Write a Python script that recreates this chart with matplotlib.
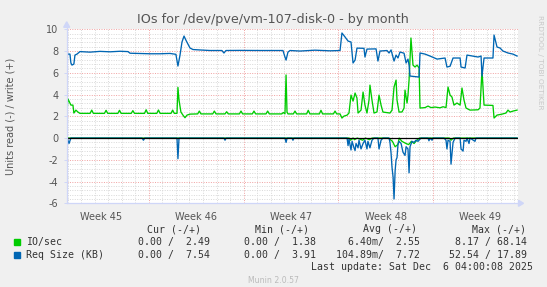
#!/usr/bin/env python3
"""Munin style 'IOs by month' graph for /dev/pve/vm-107-disk-0."""

import matplotlib
matplotlib.use('Agg')
import matplotlib.pyplot as plt
from matplotlib.patches import Polygon

# time in days relative to Mon Dec 1 00:00 (start of week 49)
week_starts = [-21, -14, -7, 0]
week_label_pos = [-24.5, -17.5, -10.5, -3.5, 3.5]
week_labels = ['Week 45', 'Week 46', 'Week 47', 'Week 48', 'Week 49']
x_range = (-27.07, 6.28)

# IO/sec, write (+)
io_write_t = [-27.05, -26.98, -26.90, -26.76, -26.61, -26.54, -26.39, -26.24, -26.09,
              -25.34, -25.22, -25.10, -24.28, -24.16, -24.04, -23.29, -23.17, -23.05,
              -22.30, -22.18, -22.06, -21.32, -21.20, -21.08, -20.41, -20.29, -20.17,
              -19.36, -19.24, -19.12, -18.92, -18.85, -18.77, -18.63, -18.48, -18.33,
              -18.18, -17.96, -17.39, -17.27, -17.15, -16.28, -16.16, -16.04,
              -15.37, -15.25, -15.13, -14.31, -14.19, -14.07, -13.35, -13.23, -13.11,
              -12.34, -12.22, -12.10, -11.18, -11.06, -10.94, -10.86, -10.79, -10.72,
              -10.32, -10.20, -10.08, -9.34, -9.22, -9.10, -8.40, -8.28, -8.16,
              -7.36, -7.24, -7.12, -6.87, -6.73, -6.58, -6.36, -6.21, -6.06, -5.91,
              -5.76, -5.62, -5.54, -5.32, -5.17, -5.03, -4.88, -4.73, -4.66, -4.51,
              -4.36, -4.14, -3.99, -3.84, -3.70, -3.18, -3.03, -2.88, -2.73, -2.66,
              -2.51, -2.29, -2.14, -2.07, -1.92, -1.85, -1.77, -1.63, -1.48, -1.33,
              -1.18, -1.03, -0.96, -0.59, -0.37, -0.15, 0.15, 0.52, 0.74, 0.96, 1.11,
              1.26, 1.40, 1.55, 1.77, 2.00, 2.14, 2.29, 2.44, 2.73, 3.33, 3.47, 3.62,
              3.77, 4.43, 4.51, 4.73, 5.10, 5.39, 5.54, 5.69, 5.91, 6.21]
io_write = [2.39, 3.59, 3.40, 3.03, 3.03, 2.30, 2.57, 2.39, 2.27,
            2.27, 2.57, 2.27, 2.27, 2.55, 2.27, 2.27, 2.55, 2.27,
            2.27, 2.52, 2.27, 2.27, 2.60, 2.27, 2.27, 2.58, 2.27,
            2.27, 2.57, 2.27, 2.27, 4.66, 3.49, 2.39, 2.11, 1.87,
            2.11, 2.20, 2.22, 2.48, 2.22, 2.22, 2.48, 2.22,
            2.22, 2.42, 2.22, 2.22, 2.48, 2.22, 2.22, 2.48, 2.22,
            2.22, 2.48, 2.22, 2.22, 2.35, 2.22, 5.80, 2.39, 2.22,
            2.22, 2.48, 2.22, 2.22, 2.55, 2.22, 2.22, 2.55, 2.22,
            2.22, 2.48, 2.22, 2.22, 1.84, 2.02, 2.10, 2.30, 3.95, 3.40,
            4.14, 3.68, 2.30, 2.57, 4.23, 3.03, 2.30, 3.49, 4.87, 3.49,
            2.30, 2.40, 3.95, 3.03, 2.39, 2.30, 2.57, 4.69, 5.33, 3.49,
            2.39, 2.40, 2.76, 4.41, 3.22, 3.95, 5.33, 9.20, 6.71, 6.53,
            6.71, 6.44, 2.76, 2.80, 2.94, 2.80, 2.85, 2.78, 2.88, 2.80, 4.69,
            3.95, 3.77, 3.03, 3.22, 3.03, 4.60, 3.49, 2.76, 2.57, 2.60, 2.76, 6.25,
            3.03, 3.00, 1.84, 2.11, 2.20, 2.30, 2.57, 2.39, 2.48, 2.57]

# IO/sec, read (-), stored positive
io_read_t = [-27.05, -6.20, -6.10, -5.90, -5.80, -5.60, -5.20, -5.00, -4.70, -4.50,
             -3.30, -3.00, -2.80, -2.60, -2.50, -2.30, -2.00, -1.80, -1.60, -1.40,
             -1.20, -1.00, 1.20, 1.33, 1.50, 6.21]
io_read = [0.0, 0.0, 0.20, 0.0, 0.15, 0.0, 0.20, 0.0, 0.15, 0.0,
           0.0, 0.30, 0.80, 0.60, 0.0, 0.30, 0.50, 0.60, 0.30, 0.50,
           0.20, 0.0, 0.0, 0.20, 0.0, 0.0]

# Req Size (KB), write (+)
req_write_t = [-27.05, -26.83, -26.76, -26.68, -26.54, -26.46, -26.31, -26.09, -25.35,
               -24.61, -23.87, -23.13, -22.54, -22.39, -20.92, -20.18, -19.44, -19.00,
               -18.85, -18.70, -18.55, -18.40, -18.26, -18.11, -17.96, -17.74, -17.22,
               -16.48, -15.60, -15.45, -15.30, -14.26, -12.79, -11.09, -10.94, -10.86,
               -10.72, -10.57, -9.83, -8.72, -7.61, -6.87, -6.73, -6.50, -6.28, -6.06,
               -5.91, -5.76, -5.62, -5.10, -5.03, -4.88, -4.21, -4.07, -3.92, -3.40,
               -3.25, -3.10, -2.88, -2.73, -2.59, -2.44, -2.14, -1.99, -1.85, -1.77,
               -1.70, -1.03, -0.96, -0.59, -0.22, 0.30, 0.89, 1.03, 1.26, 1.48, 2.00,
               2.07, 2.37, 2.51, 3.33, 3.55, 3.62, 3.77, 4.43, 4.51, 4.73, 4.95, 5.17,
               5.54, 5.91, 6.21]
req_write = [7.72, 7.72, 6.90, 6.71, 6.80, 7.63, 7.72, 7.95, 7.90,
             7.97, 7.93, 7.98, 7.95, 7.80, 7.75, 7.75, 7.78, 7.70,
             6.62, 7.60, 8.83, 9.38, 9.00, 8.64, 8.28, 8.14, 8.10,
             8.05, 8.05, 7.82, 8.05, 8.06, 8.05, 8.05, 7.45, 7.17,
             7.90, 8.05, 8.00, 8.08, 8.02, 8.05, 9.66, 9.29, 8.92, 8.83,
             6.90, 7.17, 8.27, 8.25, 7.45, 8.18, 8.20, 7.08, 8.00, 8.05,
             7.82, 8.10, 7.08, 7.63, 7.36, 7.91, 7.80, 6.90, 7.26, 6.71,
             5.70, 5.61, 7.82, 7.72, 7.54, 7.26, 7.36, 6.53, 6.60, 7.36, 7.36,
             6.53, 6.44, 7.63, 7.45, 7.54, 5.70, 7.36, 7.36, 9.47, 8.37, 8.28, 8.00,
             7.82, 7.72, 7.54]

# Req Size (KB), read (-), stored positive
req_read_t = [-27.05, -26.98, -26.90, -26.76, -21.50, -21.40, -21.30, -18.92, -18.85,
              -18.77, -15.45, -15.37, -15.29, -10.94, -10.86, -10.78, -10.42, -10.35,
              -10.28, -6.35, -6.28, -6.21, -6.06, -5.98, -5.84, -5.76, -5.69, -5.54,
              -5.47, -5.32, -5.17, -5.03, -4.88, -4.81, -4.66, -4.51, -4.36, -4.07,
              -3.99, -3.84, -3.70, -3.25, -3.18, -3.10, -3.03, -2.95, -2.88, -2.80,
              -2.73, -2.66, -2.59, -2.51, -2.36, -2.22, -2.07, -1.99, -1.85, -1.77,
              -1.70, -1.55, -1.40, -1.26, -1.11, -0.96, -0.89, -0.37, -0.30, -0.22,
              -0.07, 0.00, 0.81, 0.96, 1.03, 1.11, 1.26, 1.33, 1.48, 1.63, 2.00, 2.07,
              2.22, 2.29, 2.44, 2.51, 2.66, 2.73, 3.10, 3.18, 6.21]
req_read = [0.0, 0.20, 0.50, 0.0, 0.0, 0.20, 0.0, 0.0, 1.90,
            0.0, 0.0, 0.20, 0.0, 0.0, 0.40, 0.0, 0.0, 0.20,
            0.0, 0.0, 0.70, 0.10, 1.10, 0.30, 0.90, 1.15, 0.50, 0.90,
            0.20, 1.00, 0.50, 0.20, 1.00, 0.30, 0.90, 0.20, 0.0, 0.0,
            1.00, 0.20, 0.0, 0.0, 0.40, 1.40, 2.70, 3.60, 5.60, 3.00,
            2.00, 1.80, 0.60, 0.30, 0.50, 1.30, 1.60, 0.80, 1.00, 3.20,
            0.80, 0.30, 0.40, 0.20, 0.30, 0.10, 0.0, 0.0, 0.25, 0.0,
            0.20, 0.0, 0.0, 0.20, 1.00, 0.20, 0.30, 2.40, 0.40, 0.0, 0.0, 1.00,
            1.20, 0.20, 0.30, 0.0, 0.50, 0.0, 0.30, 0.0, 0.0]

legend_rows = [
    ('IO/sec', '#00CC00', ['0.00 /  2.49', '0.00 /  1.38', '6.40m/  2.55', '8.17 / 68.14']),
    ('Req Size (KB)', '#0066B3', ['0.00 /  7.54', '0.00 /  3.91', '104.89m/  7.72', '52.54 / 17.89']),
]
legend_headers = ['Cur (-/+)', 'Min (-/+)', 'Avg (-/+)', 'Max (-/+)']

W, H = 547, 287
BACK = '#F0F0F0'
AXIS = '#CFD6F8'
FONT = '#555555'
MONO = 'DejaVu Sans Mono'


def fx(px):
    return px / W


def fy(py):
    return 1 - py / H


fig = plt.figure(figsize=(W / 100, H / 100), dpi=100, facecolor=BACK)
left, right, top, bottom = 66.7, 518.0, 29.3, 203.3
ax = fig.add_axes([fx(left), fy(bottom), (right - left) / W, (bottom - top) / H])
ax.set_facecolor('white')
ax.set_xlim(*x_range)
ax.set_ylim(-6, 10)
for s in ax.spines.values():
    s.set_visible(False)

# grid: gray dotted minor lines, red dotted major lines
dots = (0, (1, 1.5))
d = int(x_range[0]) - 1
while d <= x_range[1]:
    if d not in week_starts and x_range[0] < d < x_range[1]:
        ax.axvline(d, color='#D8D8D8', lw=0.7, ls=dots, zorder=1)
    d += 1
for v in [i * 0.4 for i in range(-15, 26)]:
    if abs(v / 2 - round(v / 2)) > 1e-6:
        ax.axhline(v, color='#D8D8D8', lw=0.7, ls=dots, zorder=1)
for v in range(-6, 11, 2):
    if v != 0:
        ax.axhline(v, color='#F0A0A0', lw=0.7, ls=dots, zorder=1)
for w in week_starts:
    ax.axvline(w, color='#F0A0A0', lw=0.7, ls=dots, zorder=1)

# series
lw = 0.95
ax.plot(io_read_t, [-v for v in io_read], color='#00CC00', lw=lw, zorder=3)
ax.plot(io_write_t, io_write, color='#00CC00', lw=lw, zorder=3)
ax.plot(req_read_t, [-v for v in req_read], color='#0066B3', lw=lw, zorder=4)
ax.plot(req_write_t, req_write, color='#0066B3', lw=lw, zorder=4)
ax.axhline(0, color='black', lw=0.9, zorder=5)

# axes with arrows
ax.plot([0, 0], [0, 1.02], color=AXIS, lw=0.9, transform=ax.transAxes, clip_on=False, zorder=6)
ax.plot([0, 1.002], [0, 0], color=AXIS, lw=0.9, transform=ax.transAxes, clip_on=False, zorder=6)
aw = right - left
ah = bottom - top
ax.add_patch(Polygon([(0, 1 + 7.5 / ah), (-3 / aw, 1 + 2 / ah), (3 / aw, 1 + 2 / ah)],
                     closed=True, color=AXIS, transform=ax.transAxes, clip_on=False, zorder=6))
ax.add_patch(Polygon([(1 + 5.5 / aw, 0), (1 + 0.5 / aw, 3 / ah), (1 + 0.5 / aw, -3 / ah)],
                     closed=True, color=AXIS, transform=ax.transAxes, clip_on=False, zorder=6))

ax.set_yticks(range(-6, 11, 2))
ax.set_yticklabels([str(v) for v in range(-6, 11, 2)])
ax.set_xticks(week_label_pos)
ax.set_xticklabels(week_labels)
ax.tick_params(axis='y', length=2, width=0.7, color=AXIS, pad=4, labelsize=7, labelcolor=FONT)
ax.tick_params(axis='x', length=0, pad=6, labelsize=7, labelcolor=FONT)

# texts
fig.text(fx(273), fy(19), 'IOs for /dev/pve/vm-107-disk-0 - by month',
         ha='center', va='center', fontsize=9.2, color=FONT)
fig.text(fx(11), fy(116.3), 'Units read (-) / write (+)', rotation=90,
         ha='center', va='center', fontsize=7, color=FONT)
fig.text(fx(540), fy(15), 'RRDTOOL / TOBI OETIKER', rotation=270,
         ha='center', va='top', fontsize=5.3, color='#C8C8C8')

header_x = [200.6, 309.1, 417.0, 526.2]
value_x = [209.7, 315.8, 420.4, 526.9]
for hx, h in zip(header_x, legend_headers):
    fig.text(fx(hx), fy(229), h, ha='right', va='center', family=MONO,
             fontsize=7.15, color='#333333')
for i, (name, color, vals) in enumerate(legend_rows):
    ry = 242.3 + i * 12.6
    fig.patches.append(Polygon([(fx(14), fy(ry - 3)), (fx(20), fy(ry - 3)),
                                (fx(20), fy(ry + 3)), (fx(14), fy(ry + 3))],
                               closed=True, color=color, transform=fig.transFigure))
    fig.text(fx(26), fy(ry), name, ha='left', va='center', family=MONO,
             fontsize=7.15, color='#333333')
    for vx, val in zip(value_x, vals):
        fig.text(fx(vx), fy(ry), val, ha='right', va='center', family=MONO,
                 fontsize=7.15, color='#333333')
fig.text(fx(532.8), fy(267.1), 'Last update: Sat Dec  6 04:00:08 2025', ha='right',
         va='center', family=MONO, fontsize=7.15, color='#333333')
fig.text(fx(273), fy(280.4), 'Munin 2.0.57', ha='center', va='center',
         fontsize=5.6, color='#BBBBBB')

fig.savefig('out.png', dpi=100, facecolor=BACK)
